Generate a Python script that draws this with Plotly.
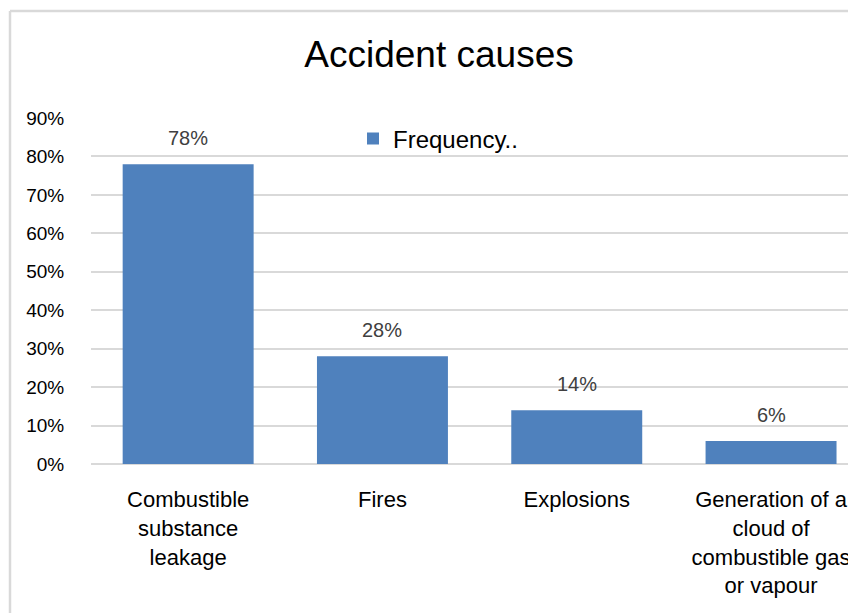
import plotly.graph_objects as go

categories = [
    "Combustible<br>substance<br>leakage",
    "Fires",
    "Explosions",
    "Generation of a<br>cloud of<br>combustible gas<br>or vapour",
]
frequency = [0.78, 0.28, 0.14, 0.06]
labels = ["78%", "28%", "14%", "6%"]
series_name = "Frequency.."
title_text = "Accident causes"

# the page body adds an 8px margin, so the figure is laid out 8px smaller
OFF = 8
W, H = 856 - OFF, 613 - OFF
L, R = 91 - OFF, 0
T = 118 - OFF
B = H - (464 - OFF)
pw = W - L - R
ph = H - T - B

FONT = "Liberation Sans, Arial, sans-serif"
BAR = "#4F81BD"
GRID = "#D9D9D9"

fig = go.Figure()
fig.add_trace(go.Bar(
    x=list(range(len(categories))),
    y=frequency,
    name=series_name,
    marker=dict(color=BAR, line=dict(width=0)),
    showlegend=True,
    hoverinfo="skip",
))

for i, (v, t) in enumerate(zip(frequency, labels)):
    fig.add_annotation(
        x=i, y=v, text=t, showarrow=False,
        yanchor="bottom", yshift=13,
        font=dict(family=FONT, size=20, color="#404040"),
    )

# reference-pixel helpers
def px_x(p):
    return (p - OFF - L) / pw

def px_y(p):
    return (H - B - (p - OFF)) / ph

# outer chart border (top and left edges visible)
fig.add_shape(type="line", xref="paper", yref="paper",
              x0=px_x(10), x1=px_x(900), y0=px_y(11), y1=px_y(11),
              line=dict(color=GRID, width=2.5), layer="below")
fig.add_shape(type="line", xref="paper", yref="paper",
              x0=px_x(10), x1=px_x(10), y0=px_y(11), y1=px_y(700),
              line=dict(color=GRID, width=2.5), layer="below")

fig.update_layout(
    width=W, height=H,
    margin=dict(l=L, r=R, t=T, b=B, autoexpand=False),
    paper_bgcolor="white", plot_bgcolor="white",
    bargap=0.326,
    title=dict(text=title_text, x=(439 - OFF) / W, xanchor="center",
               y=1 - (54 - OFF) / H, yanchor="middle",
               font=dict(family=FONT, size=37, color="black")),
    legend=dict(x=px_x(353), xanchor="left", y=px_y(139), yanchor="middle",
                font=dict(family=FONT, size=24, color="black"),
                bgcolor="rgba(0,0,0,0)", borderwidth=0),
    xaxis=dict(
        range=[-0.5, -0.5 + pw / 194.3],
        tickmode="array",
        tickvals=list(range(len(categories))),
        ticktext=categories,
        showgrid=False, zeroline=False, showline=False,
        ticks="outside", ticklen=16, tickcolor="rgba(0,0,0,0)",
        tickfont=dict(family=FONT, size=22, color="black"),
        fixedrange=True,
    ),
    yaxis=dict(
        range=[0, 0.9], dtick=0.1, tick0=0,
        tickformat=".0%",
        showgrid=True, gridcolor=GRID, gridwidth=1.5,
        zeroline=True, zerolinecolor=GRID, zerolinewidth=1.5,
        showline=False,
        ticks="outside", ticklen=22, tickcolor="rgba(0,0,0,0)",
        tickfont=dict(family=FONT, size=19, color="black"),
        fixedrange=True,
    ),
)

fig.write_html("out.html")
